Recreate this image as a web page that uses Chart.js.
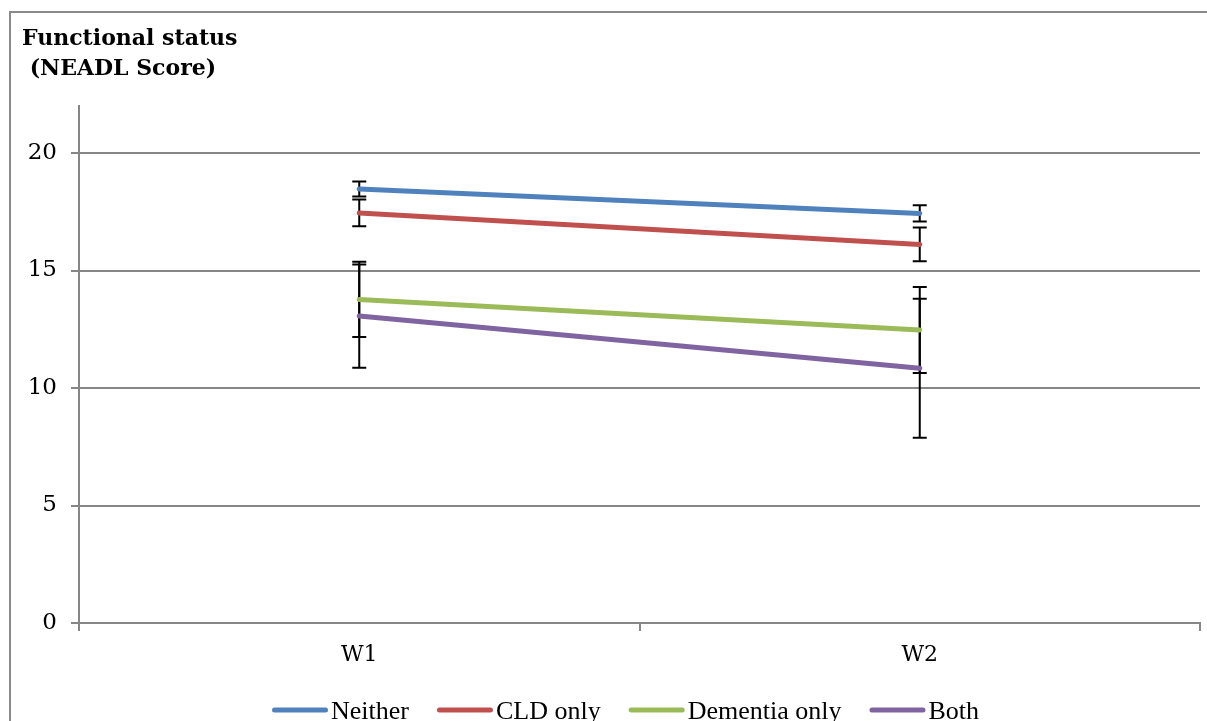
<!DOCTYPE html>
<html>
<head>
<meta charset="utf-8">
<script src="https://cdn.jsdelivr.net/npm/chart.js@4.4.1/dist/chart.umd.min.js"></script>
<style>
  html, body { margin: 0; padding: 0; background: #ffffff; }
  #wrap { position: relative; width: 1207px; height: 721px; }
  canvas { display: block; }
</style>
</head>
<body>
<div id="wrap"><canvas id="chart" width="1207" height="721"></canvas></div>
<script>
// Waves of the survey
const waves = ['W1', 'W2'];

// Group names
const groupNames = ['Neither', 'CLD only', 'Dementia only', 'Both'];

// Mean NEADL score per group at W1, W2
const neither      = [18.47, 17.43];
const cldOnly      = [17.45, 16.11];
const dementiaOnly = [13.77, 12.47];
const both         = [13.06, 10.84];

// Error bar half-widths per group at W1, W2
const neitherErr      = [0.32, 0.35];
const cldOnlyErr      = [0.57, 0.72];
const dementiaOnlyErr = [1.60, 1.83];
const bothErr         = [2.20, 2.96];

// Value-axis tick labels
const yTicks = [0, 5, 10, 15, 20];

const seriesColors = ['#4F81BD', '#C0504D', '#9BBB59', '#8064A2'];
const seriesValues = [neither, cldOnly, dementiaOnly, both];
const seriesErrors = [neitherErr, cldOnlyErr, dementiaOnlyErr, bothErr];

const AXIS_GREY = '#868686';
const SERIF = "'Liberation Serif', 'Times New Roman', serif";
const TICK_FONT = "'DejaVu Serif', serif";

// Outer frame and two-line heading
const framePlugin = {
  id: 'frame',
  beforeDraw(chart) {
    const ctx = chart.ctx;
    ctx.save();
    ctx.fillStyle = '#ffffff';
    ctx.fillRect(0, 0, chart.width, chart.height);
    ctx.strokeStyle = '#8a8a8a';
    ctx.lineWidth = 2;
    ctx.beginPath();
    ctx.moveTo(10, chart.height + 5);
    ctx.lineTo(10, 12);
    ctx.lineTo(chart.width + 5, 12);
    ctx.stroke();

    ctx.fillStyle = '#000000';
    ctx.font = "bold 22px " + TICK_FONT;
    ctx.textAlign = 'left';
    ctx.textBaseline = 'alphabetic';
    ctx.fillText('Functional status', 22, 45);
    ctx.fillText(' (NEADL Score)', 22, 75);
    ctx.restore();
  }
};

// Vertical error bars with caps, behind the lines
const errorBarPlugin = {
  id: 'errorBars',
  beforeDatasetsDraw(chart) {
    const ctx = chart.ctx;
    const x = chart.scales.x;
    const y = chart.scales.y;
    const cap = 7;
    ctx.save();
    ctx.strokeStyle = '#000000';
    ctx.lineWidth = 2;
    seriesValues.forEach((vals, s) => {
      vals.forEach((v, i) => {
        const px = x.getPixelForValue(i);
        const hi = y.getPixelForValue(v + seriesErrors[s][i]);
        const lo = y.getPixelForValue(v - seriesErrors[s][i]);
        ctx.beginPath();
        ctx.moveTo(px, hi); ctx.lineTo(px, lo);
        ctx.moveTo(px - cap, hi); ctx.lineTo(px + cap, hi);
        ctx.moveTo(px - cap, lo); ctx.lineTo(px + cap, lo);
        ctx.stroke();
      });
    });
    ctx.restore();
  }
};

// Legend row along the bottom: line sample followed by its label
const lineLegendPlugin = {
  id: 'lineLegend',
  afterDraw(chart) {
    const ctx = chart.ctx;
    const sample = 56, gap = 3, spacing = 28;
    const yMid = 710;
    ctx.save();
    ctx.font = "26px " + SERIF;
    ctx.textBaseline = 'alphabetic';
    ctx.textAlign = 'left';
    let xPos = 272;
    chart.data.datasets.forEach(ds => {
      ctx.strokeStyle = ds.borderColor;
      ctx.lineWidth = 5;
      ctx.lineCap = 'round';
      ctx.beginPath();
      ctx.moveTo(xPos + 2.5, yMid);
      ctx.lineTo(xPos + sample - 2.5, yMid);
      ctx.stroke();
      xPos += sample + gap;
      ctx.fillStyle = '#000000';
      ctx.fillText(ds.label, xPos, 719);
      xPos += ctx.measureText(ds.label).width + spacing;
    });
    ctx.restore();
  }
};

new Chart(document.getElementById('chart'), {
  type: 'line',
  data: {
    labels: waves,
    datasets: groupNames.map((name, s) => ({
      label: name,
      data: seriesValues[s],
      borderColor: seriesColors[s],
      backgroundColor: seriesColors[s],
      borderWidth: 5,
      borderCapStyle: 'round',
      pointRadius: 0,
      tension: 0,
      fill: false
    }))
  },
  options: {
    responsive: false,
    animation: false,
    devicePixelRatio: 1,
    layout: { padding: { left: 0, top: 106, right: 7, bottom: 0 } },
    plugins: {
      legend: { display: false },
      title: { display: false },
      tooltip: { enabled: false }
    },
    scales: {
      x: {
        type: 'category',
        offset: true,
        afterFit(scale) { scale.height = 98; },
        grid: {
          offset: true,
          drawOnChartArea: false,
          drawTicks: true,
          tickLength: 8,
          color: AXIS_GREY,
          lineWidth: 2
        },
        border: { display: true, color: AXIS_GREY, width: 2 },
        ticks: {
          color: '#000000',
          font: { family: TICK_FONT, size: 22 },
          padding: 11,
          maxRotation: 0
        }
      },
      y: {
        min: 0,
        max: 22,
        afterFit(scale) { scale.width = 79; },
        afterBuildTicks(scale) {
          scale.ticks = yTicks.map(v => ({ value: v }));
        },
        grid: {
          color: AXIS_GREY,
          lineWidth: 2,
          drawTicks: true,
          tickLength: 8
        },
        border: { display: true, color: AXIS_GREY, width: 2 },
        ticks: {
          color: '#000000',
          font: { family: TICK_FONT, size: 23 },
          padding: 14
        }
      }
    }
  },
  plugins: [framePlugin, errorBarPlugin, lineLegendPlugin]
});
</script>
</body>
</html>
